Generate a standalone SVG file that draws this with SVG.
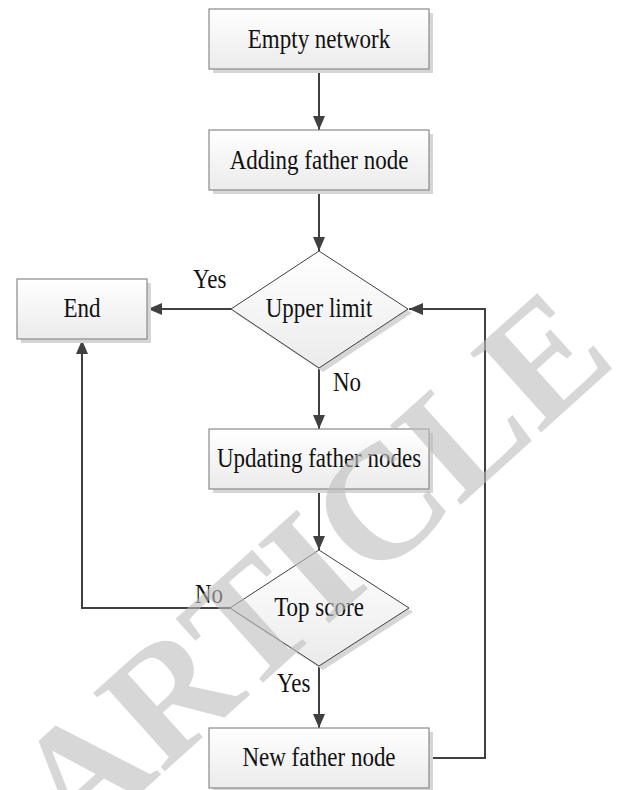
<svg xmlns="http://www.w3.org/2000/svg" width="621" height="790" viewBox="0 0 621 790">
<defs>
<linearGradient id="fillg" x1="0" y1="0" x2="0" y2="1">
<stop offset="0" stop-color="#ffffff"/>
<stop offset="1" stop-color="#ebebeb"/>
</linearGradient>
<marker id="arr" viewBox="0 0 14 12" refX="14" refY="6" markerWidth="14" markerHeight="12" markerUnits="userSpaceOnUse" orient="auto">
<path d="M0,0 L14,6 L0,12 Z" fill="#404040"/>
</marker>
<style>
.box{fill:url(#fillg);stroke:#8a8a8a;stroke-width:1.2}
.dia{fill:url(#fillg);stroke:#404040;stroke-width:1}
.sh{fill:#d6d6d6}
.t{font-size:23px;fill:#111}
.m{text-anchor:middle}
.c{fill:none;stroke:#404040;stroke-width:2}
.wm{font-size:162px;font-weight:bold;fill:#bdbdbd;opacity:0.6}
</style>
</defs>
<rect width="621" height="790" fill="#ffffff"/>
<g id="connectors">
<path class="c" d="M319,69 V130" marker-end="url(#arr)"/>
<path class="c" d="M319,190 V251" marker-end="url(#arr)"/>
<path class="c" d="M231,309 H148" marker-end="url(#arr)"/>
<path class="c" d="M319,368 V429" marker-end="url(#arr)"/>
<path class="c" d="M319,489 V550" marker-end="url(#arr)"/>
<path class="c" d="M230,608 H82 V340" marker-end="url(#arr)"/>
<path class="c" d="M319,666 V728" marker-end="url(#arr)"/>
<path class="c" d="M429,758 H485 V309 H409" marker-end="url(#arr)"/>
</g>
<g font-family="'Liberation Serif', Tinos, 'Times New Roman', 'DejaVu Serif', serif">
<g id="empty-network">
<rect class="sh" x="213" y="13" width="220" height="60"/>
<rect class="box" x="209" y="9" width="220" height="60"/>
<text class="t m" transform="translate(319,48) scale(1,1.15)">Empty network</text>
</g>
<g id="adding-father-node">
<rect class="sh" x="213" y="134" width="220" height="60"/>
<rect class="box" x="209" y="130" width="220" height="60"/>
<text class="t m" transform="translate(319,169) scale(1,1.15)">Adding father node</text>
</g>
<g id="upper-limit">
<polygon class="sh" points="323,255 412,313 323,372 235,313"/>
<polygon class="dia" points="319,251 408,309 319,368 231,309"/>
<text class="t m" transform="translate(319,317) scale(1,1.15)">Upper limit</text>
</g>
<g id="end">
<rect class="sh" x="21" y="283" width="130" height="60"/>
<rect class="box" x="17" y="279" width="130" height="60"/>
<text class="t m" transform="translate(82,317) scale(1,1.15)">End</text>
</g>
<g id="updating-father-nodes">
<rect class="sh" x="213" y="433" width="220" height="60"/>
<rect class="box" x="209" y="429" width="220" height="60"/>
<text class="t m" transform="translate(319,467) scale(1,1.15)">Updating father nodes</text>
</g>
<g id="top-score">
<polygon class="sh" points="323,554 413,612 323,670 234,612"/>
<polygon class="dia" points="319,550 409,608 319,666 230,608"/>
<text class="t m" transform="translate(319,616) scale(1,1.15)">Top score</text>
</g>
<g id="new-father-node">
<rect class="sh" x="213" y="732" width="220" height="60"/>
<rect class="box" x="209" y="728" width="220" height="60"/>
<text class="t m" transform="translate(319,766) scale(1,1.15)">New father node</text>
</g>
<g id="labels">
<text class="t" transform="translate(193,288) scale(1,1.15)">Yes</text>
<text class="t" transform="translate(333,391) scale(1,1.15)">No</text>
<text class="t" transform="translate(195,603) scale(1,1.15)">No</text>
<text class="t" transform="translate(277,692) scale(1,1.15)">Yes</text>
</g>
<text class="wm" transform="translate(75,852) rotate(-42)">ARTICLE</text>
</g>
</svg>
